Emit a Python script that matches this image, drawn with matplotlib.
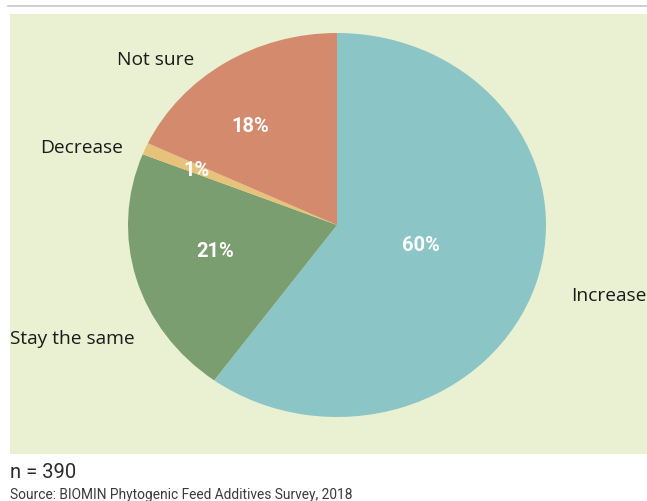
import matplotlib
matplotlib.use('Agg')
import matplotlib.pyplot as plt
from matplotlib.patches import Rectangle
from matplotlib.lines import Line2D

# slice data, clockwise from 12 o'clock
labels = ["Increase", "Stay the same", "Decrease", "Not sure"]
shares = [60, 21, 1, 18]
colors = ["#8cc5c5", "#7a9e70", "#e6c27a", "#d48a6c"]

# text anchor points in pie units (radius = 1)
label_pos = [(1.30, -0.365), (-1.265, -0.59), (-1.22, 0.405), (-0.87, 0.865)]
pct_pos = [(0.40, -0.10), (-0.585, -0.135), (-0.67, 0.29), (-0.415, 0.52)]

W, H = 647, 502
fig = plt.figure(figsize=(W / 100, H / 100), dpi=100)

# top rule and light panel behind the pie
fig.add_artist(Line2D([8 / W, 1], [1 - 6.5 / H, 1 - 6.5 / H], color="#c8c8c8", lw=1.2))
fig.add_artist(Rectangle((10 / W, 1 - 455 / H), 1 - 10 / W, 440 / H,
                         facecolor="#eaf0d2", edgecolor="none", zorder=0))

# pie axes: slightly wider than tall, like the source
ax = fig.add_axes([128 / W, 1 - 418 / H, 418 / W, 384 / H])
ax.pie(shares, colors=colors, startangle=90, counterclock=False,
       wedgeprops=dict(linewidth=0))
ax.set_aspect('auto')
ax.set_xlim(-1, 1)
ax.set_ylim(-1, 1)
ax.axis('off')

for lab, (x, y) in zip(labels, label_pos):
    ax.text(x, y, lab, ha='center', va='center', fontsize=13.8,
            family='Open Sans', color="#1a1a1a", clip_on=False)

for v, (x, y) in zip(shares, pct_pos):
    ax.text(x, y, f"{v}%", ha='center', va='center', fontsize=14.5,
            family='Roboto', fontweight='bold', color="white")

fig.text(10 / W, 1 - 472 / H, "n = 390", ha='left', va='center',
         fontsize=14.5, family='Roboto', color="#2a2a2a")
fig.text(10 / W, 1 - 495.5 / H, "Source: BIOMIN Phytogenic Feed Additives Survey, 2018",
         ha='left', va='center', fontsize=9.9, family='Roboto', color="#3a3a3a")

fig.savefig("out.png", dpi=100)
